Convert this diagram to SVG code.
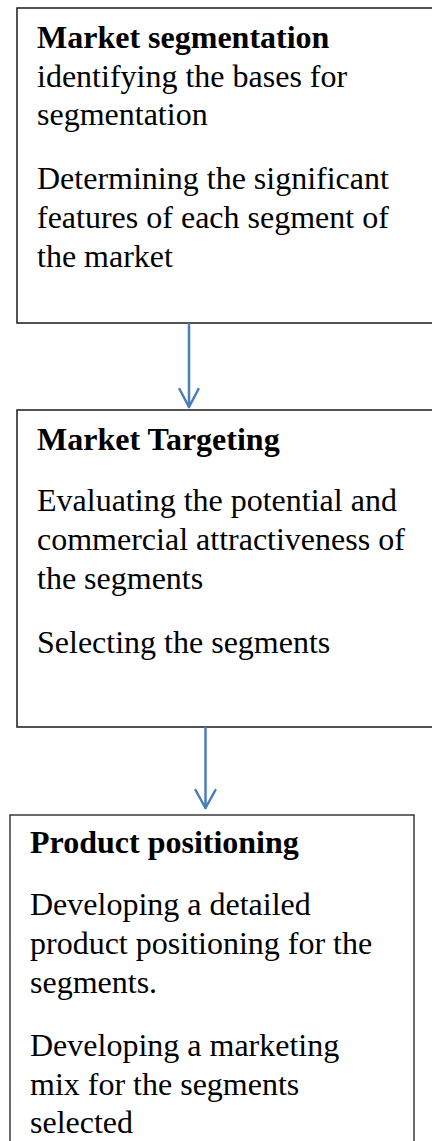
<svg xmlns="http://www.w3.org/2000/svg" width="432" height="1141" viewBox="0 0 432 1141">
  <style>
    .box { fill: #ffffff; stroke: #1a1a1a; stroke-width: 1.5; }
    .title { font-family: "Liberation Serif", "Times New Roman", serif; font-size: 32px; font-weight: bold; fill: #000000; }
    .body { font-family: "Liberation Serif", "Times New Roman", serif; font-size: 32px; fill: #000000; }
    .conn { fill: none; stroke: #4a7ebb; stroke-width: 2.5; stroke-linecap: round; stroke-linejoin: round; }
  </style>
  <rect x="0" y="0" width="432" height="1141" fill="#ffffff"/>

  <g id="node-segmentation">
    <rect class="box" x="17" y="8" width="430" height="315"/>
    <text class="title" x="37" y="48">Market segmentation</text>
    <text class="body" x="37" y="87">identifying the bases for</text>
    <text class="body" x="37" y="125">segmentation</text>
    <text class="body" x="37" y="189">Determining the significant</text>
    <text class="body" x="37" y="228">features of each segment of</text>
    <text class="body" x="37" y="267">the market</text>
  </g>

  <g id="node-targeting">
    <rect class="box" x="17" y="410" width="430" height="317"/>
    <text class="title" x="37" y="450">Market Targeting</text>
    <text class="body" x="37" y="511">Evaluating the potential and</text>
    <text class="body" x="37" y="550">commercial attractiveness of</text>
    <text class="body" x="37" y="589">the segments</text>
    <text class="body" x="37" y="653">Selecting the segments</text>
  </g>

  <g id="node-positioning">
    <rect class="box" x="10" y="815" width="404" height="340" style="stroke:#3a3a3a"/>
    <text class="title" x="30" y="853">Product positioning</text>
    <text class="body" x="30" y="915">Developing a detailed</text>
    <text class="body" x="30" y="954">product positioning for the</text>
    <text class="body" x="30" y="993">segments.</text>
    <text class="body" x="30" y="1056">Developing a marketing</text>
    <text class="body" x="30" y="1095">mix for the segments</text>
    <text class="body" x="30" y="1133">selected</text>
  </g>

  <g id="connectors">
    <path class="conn" d="M189 324 V407"/>
    <path class="conn" d="M179.5 389 L189 407 L198.5 389"/>
    <path class="conn" d="M205.5 728 V808"/>
    <path class="conn" d="M195.5 790 L205.5 808 L215.5 790"/>
  </g>
</svg>
